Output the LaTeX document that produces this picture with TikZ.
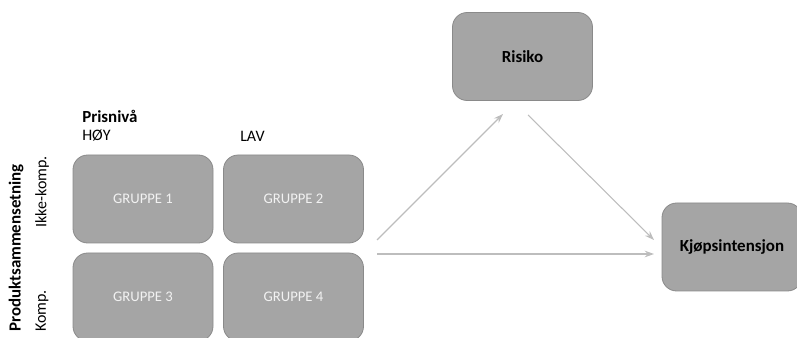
\documentclass[tikz,border=0pt]{standalone}
\usepackage{fontspec}
\setmainfont{Carlito}
\usetikzlibrary{arrows.meta}
\definecolor{boxfill}{HTML}{A5A5A5}
\definecolor{boxline}{HTML}{8A8A8A}
\definecolor{arrowc}{HTML}{BDBDBD}
\begin{document}
\begin{tikzpicture}[x=0.75pt,y=-0.75pt,
  gbox/.style={draw=boxline,fill=boxfill,rounded corners=11pt,line width=0.6pt,
    minimum width=105pt,minimum height=66pt,inner sep=0pt,text=white!95!black,font=\fontsize{11}{13}\selectfont},
  bbox/.style={draw=boxline,fill=boxfill,rounded corners=11pt,line width=0.6pt,
    minimum width=105pt,minimum height=66pt,inner sep=0pt,font=\bfseries\fontsize{12.7}{15}\selectfont},
  lbl/.style={inner sep=0pt,font=\fontsize{12}{14}\selectfont},
  blbl/.style={inner sep=0pt,font=\bfseries\fontsize{12.7}{15}\selectfont},
  conn/.style={draw=arrowc,line width=0.8pt,-{Stealth[length=7pt,width=5pt]}}]
\useasboundingbox (0,0) rectangle (797,338);
\node[gbox] (g1) at (143,199) {GRUPPE 1};
\node[gbox] (g2) at (293.5,199) {GRUPPE 2};
\node[gbox] (g3) at (143,297) {GRUPPE 3};
\node[gbox] (g4) at (293.5,297) {GRUPPE 4};
\node[bbox] (risiko) at (522.5,56.5) {Risiko};
\node[bbox] (kjop) at (732,247) {Kjøpsintensjon};
\node[blbl,anchor=west] (pris) at (82,116) {Prisnivå};
\node[lbl,anchor=west] (hoy) at (82,136) {HØY};
\node[lbl,anchor=west] (lav) at (240,136) {LAV};
\node[blbl,rotate=90,anchor=west] (prod) at (16,332) {Produktsammensetning};
\node[lbl,rotate=90] (ikke) at (42,192) {Ikke-komp.};
\node[lbl,rotate=90,anchor=west] (komp) at (42,332) {Komp.};
\coordinate (a1s) at (377,240);
\coordinate (a1e) at (503,114);
\coordinate (a2s) at (528,115);
\coordinate (a2e) at (654,240);
\coordinate (a3s) at (377,254);
\coordinate (a3e) at (654,254);
\draw[conn] (a1s) -- (a1e);
\draw[conn] (a2s) -- (a2e);
\draw[conn] (a3s) -- (a3e);
\end{tikzpicture}
\end{document}
